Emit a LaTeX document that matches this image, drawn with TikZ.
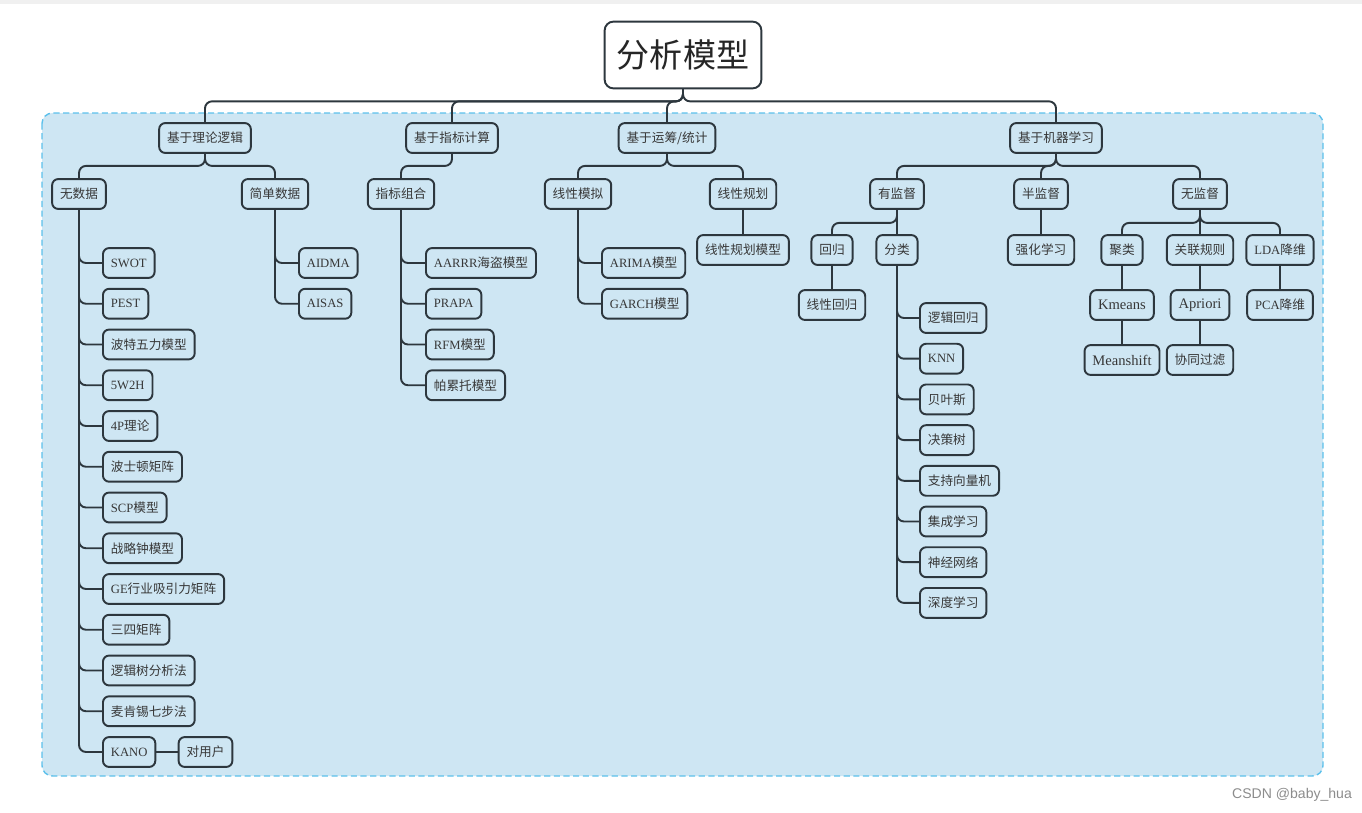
\documentclass[tikz,border=0pt]{standalone}
\usepackage{fontspec}
\setmainfont{Liberation Serif}
\newfontfamily\zh{Noto Sans CJK SC}
\newfontfamily\wmfont{Liberation Sans}
\definecolor{panel}{RGB}{206,230,243}
\definecolor{panelrim}{RGB}{92,192,235}
\definecolor{boxrim}{RGB}{45,55,62}
\definecolor{txt}{RGB}{55,55,55}

\begin{document}
\begin{tikzpicture}[x=0.02cm, y=-0.02cm,
    box/.style={draw=boxrim, line width=1.1pt, rounded corners=3.5pt, fill=panel, text=txt,
      inner xsep=4.5pt, inner ysep=0pt, minimum height=17pt, font=\fontsize{7.2}{9}\selectfont},
    rootbox/.style={box, fill=white, rounded corners=5pt, minimum height=38pt, inner xsep=7pt,
      text=black!85, font=\zh\fontsize{18.8}{22}\selectfont},
    leaf/.style={box, anchor=west},
    bigtext/.style={font=\fontsize{8.3}{10}\selectfont},
    link/.style={draw=boxrim, line width=1.1pt, rounded corners=4pt}]
      \useasboundingbox (0,0) rectangle (1362,812);
      \fill[black!6] (0,0) rectangle (1362,4);
      \draw[panelrim, fill=panel, dash pattern=on 3.5pt off 2pt, line width=0.8pt, rounded corners=6pt] (42,113) rectangle (1323,776);

      \node[rootbox] (root) at (683,55) {分析模型};

      \node[box] (theory) at (205,138) {\zh 基于理论逻辑};
      \node[box] (index) at (452,138) {\zh 基于指标计算};
      \node[box] (ops) at (667,138) {\zh 基于运筹/统计};
      \node[box] (ml) at (1056,138) {\zh 基于机器学习};

      \node[box] (nodata) at (79,194) {\zh 无数据};
      \node[box] (simple) at (275,194) {\zh 简单数据};
      \node[box] (combo) at (401,194) {\zh 指标组合};
      \node[box] (linsim) at (578,194) {\zh 线性模拟};
      \node[box] (linprog) at (743,194) {\zh 线性规划};
      \node[box] (superv) at (897,194) {\zh 有监督};
      \node[box] (semi) at (1041,194) {\zh 半监督};
      \node[box] (unsup) at (1200,194) {\zh 无监督};

      \node[box] (lpmodel) at (743,250) {\zh 线性规划模型};
      \node[box] (regr) at (832,250) {\zh 回归};
      \node[box] (classif) at (897,250) {\zh 分类};
      \node[box] (reinf) at (1041,250) {\zh 强化学习};
      \node[box] (clust) at (1122,250) {\zh 聚类};
      \node[box] (assoc) at (1200,250) {\zh 关联规则};
      \node[box] (lda) at (1280,250) {LDA{\zh 降维}};
      \node[box] (linreg) at (832,305) {\zh 线性回归};
      \node[box, bigtext] (kmeans) at (1122,305) {Kmeans};
      \node[box, bigtext] (apriori) at (1200,305) {Apriori};
      \node[box] (pca) at (1280,305) {PCA{\zh 降维}};
      \node[box, bigtext] (meanshift) at (1122,360) {Meanshift};
      \node[box] (cofilter) at (1200,360) {\zh 协同过滤};

      \node[leaf] (swot) at (102,263) {SWOT};
      \node[leaf] (pest) at (102,303.75) {PEST};
      \node[leaf] (porter) at (102,344.5) {\zh 波特五力模型};
      \node[leaf] (fivew) at (102,385.25) {5W2H};
      \node[leaf] (fourp) at (102,426) {4P{\zh 理论}};
      \node[leaf] (bcg) at (102,466.75) {\zh 波士顿矩阵};
      \node[leaf] (scp) at (102,507.5) {SCP{\zh 模型}};
      \node[leaf] (clock) at (102,548.25) {\zh 战略钟模型};
      \node[leaf] (ge) at (102,589) {GE{\zh 行业吸引力矩阵}};
      \node[leaf] (threefour) at (102,629.75) {\zh 三四矩阵};
      \node[leaf] (logictree) at (102,670.5) {\zh 逻辑树分析法};
      \node[leaf] (mck) at (102,711.25) {\zh 麦肯锡七步法};
      \node[leaf] (kano) at (102,752) {KANO};
      \node[box] (user) at (205.5,752) {\zh 对用户};

      \node[leaf] (aidma) at (298,263) {AIDMA};
      \node[leaf] (aisas) at (298,303.75) {AISAS};

      \node[leaf] (aarrr) at (425,263) {AARRR{\zh 海盗模型}};
      \node[leaf] (prapa) at (425,303.75) {PRAPA};
      \node[leaf] (rfm) at (425,344.5) {RFM{\zh 模型}};
      \node[leaf] (pareto) at (425,385.25) {\zh 帕累托模型};

      \node[leaf] (arima) at (601,263) {ARIMA{\zh 模型}};
      \node[leaf] (garch) at (601,303.75) {GARCH{\zh 模型}};

      \node[leaf] (logreg) at (919,318) {\zh 逻辑回归};
      \node[leaf] (knn) at (919,358.7) {KNN};
      \node[leaf] (bayes) at (919,399.4) {\zh 贝叶斯};
      \node[leaf] (dtree) at (919,440.1) {\zh 决策树};
      \node[leaf] (svm) at (919,480.8) {\zh 支持向量机};
      \node[leaf] (ensemble) at (919,521.5) {\zh 集成学习};
      \node[leaf] (neural) at (919,562.2) {\zh 神经网络};
      \node[leaf] (deep) at (919,602.9) {\zh 深度学习};

      \node[font=\wmfont\fontsize{8}{10}\selectfont, text=black!45] (mark) at (1292,795) {CSDN @baby\_hua};

      % top level
      \draw[link] (root.south) -- ++(0,12) -| (theory.north);
      \draw[link] (root.south) -- ++(0,12) -| (index.north);
      \draw[link] (root.south) -- ++(0,12) -| (ops.north);
      \draw[link] (root.south) -- ++(0,12) -| (ml.north);

      \draw[link] (theory.south) -- ++(0,12) -| (nodata.north);
      \draw[link] (theory.south) -- ++(0,12) -| (simple.north);
      \draw[link] (index.south) -- ++(0,12) -| (combo.north);
      \draw[link] (ops.south) -- ++(0,12) -| (linsim.north);
      \draw[link] (ops.south) -- ++(0,12) -| (linprog.north);
      \draw[link] (ml.south) -- ++(0,12) -| (superv.north);
      \draw[link] (ml.south) -- ++(0,12) -| (semi.north);
      \draw[link] (ml.south) -- ++(0,12) -| (unsup.north);

      \draw[link] (superv.south) -- ++(0,13) -| (regr.north);
      \draw[link] (superv) -- (classif);
      \draw[link] (unsup.south) -- ++(0,13) -| (clust.north);
      \draw[link] (unsup) -- (assoc);
      \draw[link] (unsup.south) -- ++(0,13) -| (lda.north);

      \draw[link] (linprog) -- (lpmodel);
      \draw[link] (semi) -- (reinf);
      \draw[link] (regr) -- (linreg);
      \draw[link] (clust) -- (kmeans);
      \draw[link] (kmeans) -- (meanshift);
      \draw[link] (assoc) -- (apriori);
      \draw[link] (apriori) -- (cofilter);
      \draw[link] (lda) -- (pca);

      % trunks
      \draw[link] (nodata.south) |- (swot.west);
      \draw[link] (nodata.south) |- (pest.west);
      \draw[link] (nodata.south) |- (porter.west);
      \draw[link] (nodata.south) |- (fivew.west);
      \draw[link] (nodata.south) |- (fourp.west);
      \draw[link] (nodata.south) |- (bcg.west);
      \draw[link] (nodata.south) |- (scp.west);
      \draw[link] (nodata.south) |- (clock.west);
      \draw[link] (nodata.south) |- (ge.west);
      \draw[link] (nodata.south) |- (threefour.west);
      \draw[link] (nodata.south) |- (logictree.west);
      \draw[link] (nodata.south) |- (mck.west);
      \draw[link] (nodata.south) |- (kano.west);
      \draw[link] (kano) -- (user);

      \draw[link] (simple.south) |- (aidma.west);
      \draw[link] (simple.south) |- (aisas.west);

      \draw[link] (combo.south) |- (aarrr.west);
      \draw[link] (combo.south) |- (prapa.west);
      \draw[link] (combo.south) |- (rfm.west);
      \draw[link] (combo.south) |- (pareto.west);

      \draw[link] (linsim.south) |- (arima.west);
      \draw[link] (linsim.south) |- (garch.west);

      \draw[link] (classif.south) |- (logreg.west);
      \draw[link] (classif.south) |- (knn.west);
      \draw[link] (classif.south) |- (bayes.west);
      \draw[link] (classif.south) |- (dtree.west);
      \draw[link] (classif.south) |- (svm.west);
      \draw[link] (classif.south) |- (ensemble.west);
      \draw[link] (classif.south) |- (neural.west);
      \draw[link] (classif.south) |- (deep.west);
    \end{tikzpicture}
\end{document}
